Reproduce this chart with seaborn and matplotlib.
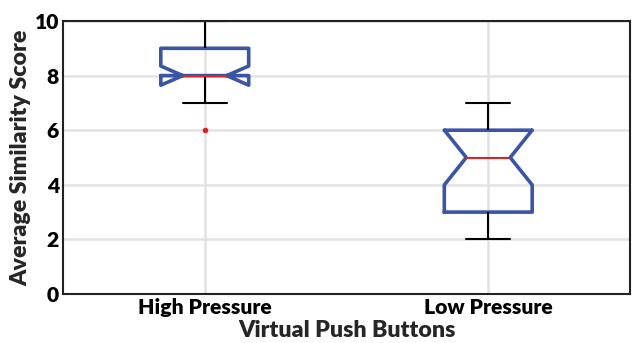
import numpy as np
import pandas as pd
import matplotlib
matplotlib.use("Agg")
import matplotlib.pyplot as plt
import seaborn as sns

categories = ["High Pressure", "Low Pressure"]
high_scores = [6, 7, 7, 7, 8, 8, 8, 8, 8, 8, 8, 9, 9, 9, 9, 9, 9, 10, 10, 10]
low_scores = [2, 2, 3, 3, 3, 3, 3, 4, 4, 5, 5, 5, 5, 6, 6, 6, 6, 6, 7, 7, 7, 7]
y_ticks = [0, 2, 4, 6, 8, 10]

df = pd.DataFrame({
    "group": [categories[0]] * len(high_scores) + [categories[1]] * len(low_scores),
    "score": high_scores + low_scores,
})

sns.set_style("white")
plt.rcParams["font.family"] = ["Lato", "DejaVu Sans"]
plt.rcParams["font.weight"] = "heavy"

fig = plt.figure(figsize=(6.38, 3.43), dpi=100)
ax = fig.add_axes([63 / 638, 1 - 294 / 343, (630 - 63) / 638, (294 - 21) / 343])

blue = "#3A54A6"
red = "#D8232A"
sns.boxplot(
    data=df, x="group", y="score", order=categories, ax=ax,
    notch=True, width=0.31, whis=1.5, fill=False, color=blue,
    boxprops=dict(color=blue, linewidth=2.6, solid_joinstyle="round"),
    medianprops=dict(color=red, linewidth=1.5),
    whiskerprops=dict(color="black", linewidth=1.5),
    capprops=dict(color="black", linewidth=1.5),
    flierprops=dict(marker="o", markersize=3, markerfacecolor=red,
                    markeredgecolor=red),
)

ax.set_ylim(0, 10)
ax.set_xlim(-0.5, 1.5)
ax.set_yticks(y_ticks)
ax.set_yticklabels([str(t) for t in y_ticks])
ax.grid(True, color="#E2E2E2", linewidth=1.8, zorder=0)
ax.set_axisbelow(True)
for s in ax.spines.values():
    s.set_color("#222222")
    s.set_linewidth(1.5)
ax.tick_params(axis="both", direction="in", length=4, width=1.2,
               labelsize=15.2, colors="black", pad=3)
for lab in ax.get_xticklabels() + ax.get_yticklabels():
    lab.set_fontweight("heavy")
ax.set_xlabel("Virtual Push Buttons", fontsize=16.7, fontweight="heavy", labelpad=2)
ax.set_ylabel("Average Similarity Score", fontsize=16.7, fontweight="heavy", labelpad=2)

fig.savefig("out.png", dpi=100)
